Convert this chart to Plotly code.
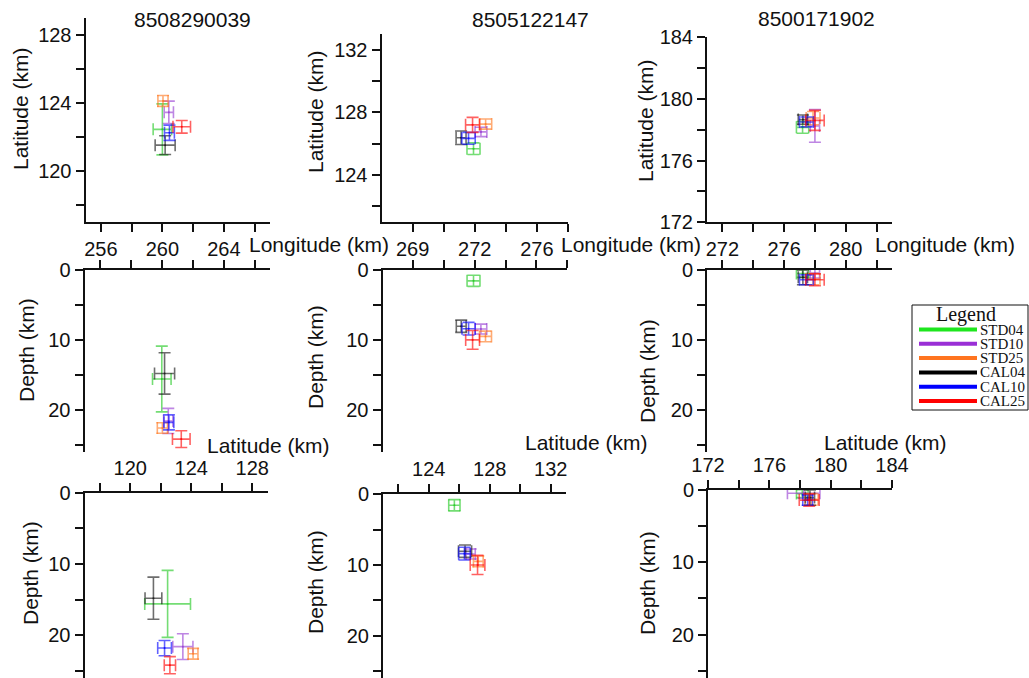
import plotly.graph_objects as go

W, H = 1029, 678

EVENTS = ["8508290039", "8505122147", "8500171902"]
SERIES = ["STD04", "STD10", "STD25", "CAL04", "CAL10", "CAL25"]
LINE_COLORS = ["#1ee61e", "#9a2fd6", "#ff7420", "#000000", "#0000ff", "#ff0000"]
MARK_RGB = [(30, 200, 30), (150, 60, 210), (255, 120, 30), (20, 20, 20), (0, 0, 255), (255, 0, 0)]

# hypocentre solutions per event (km) and one-sigma uncertainties
LON_1 = [260.00, 260.42, 260.04, 260.18, 260.46, 261.26]
LAT_1 = [122.45, 123.45, 124.12, 121.52, 122.25, 122.60]
DEP_1 = [15.6, 21.6, 22.6, 14.8, 21.8, 24.2]
ELON_1 = [0.60, 0.30, 0.33, 0.65, 0.32, 0.57]
ELAT_1 = [1.50, 0.66, 0.32, 0.55, 0.45, 0.37]
EDEP_1 = [4.70, 1.80, 0.75, 2.96, 1.07, 1.20]

LON_2 = [271.92, 272.40, 272.70, 271.12, 271.60, 271.86]
LAT_2 = [125.68, 126.75, 127.25, 126.38, 126.34, 127.20]
DEP_2 = [1.55, 8.45, 9.50, 8.05, 8.40, 10.0]
ELON_2 = [0.42, 0.38, 0.39, 0.32, 0.43, 0.45]
ELAT_2 = [0.37, 0.30, 0.32, 0.43, 0.38, 0.48]
EDEP_2 = [0.79, 0.71, 0.76, 0.88, 0.90, 1.35]

LON_3 = [277.20, 278.00, 277.88, 277.22, 277.45, 278.00]
LAT_3 = [178.15, 178.24, 178.75, 178.65, 178.50, 178.60]
DEP_3 = [0.50, 0.45, 1.30, 1.05, 1.40, 1.40]
ELON_3 = [0.40, 0.30, 0.45, 0.30, 0.45, 0.60]
ELAT_3 = [0.38, 1.06, 0.43, 0.30, 0.32, 0.65]
EDEP_3 = [0.55, 0.70, 0.80, 1.05, 0.70, 0.85]

LON = [LON_1, LON_2, LON_3]
LAT = [LAT_1, LAT_2, LAT_3]
DEP = [DEP_1, DEP_2, DEP_3]
ELON = [ELON_1, ELON_2, ELON_3]
ELAT = [ELAT_1, ELAT_2, ELAT_3]
EDEP = [EDEP_1, EDEP_2, EDEP_3]

LON_RANGE = [[255, 267], [266, 278], [271, 283]]
LAT_RANGE = [[117, 129], [121, 133], [172, 184]]
DEP_RANGE = [26, 0]

LON_TICKS = [[256, 258, 260, 262, 264, 266],
             [268, 270, 272, 274, 276, 278],
             [272, 274, 276, 278, 280, 282]]
LON_LABELS = [["256", "", "260", "", "264", ""],
              ["269", "", "272", "", "276", ""],
              ["272", "", "276", "", "280", ""]]
LAT_TICKS = [[118, 120, 122, 124, 126, 128],
             [122, 124, 126, 128, 130, 132],
             [172, 174, 176, 178, 180, 182, 184]]
LAT_LABELS = [["", "120", "", "124", "", "128"],
              ["", "124", "", "128", "", "132"],
              ["172", "", "176", "", "180", "", "184"]]
DEP_TICKS = [0, 5, 10, 15, 20, 25]
DEP_LABELS = ["0", "", "10", "", "20", ""]

SANS = "Liberation Sans, Arial, sans-serif"
SERIF = "Liberation Serif, Times New Roman, serif"
INK = "#111111"


def px(x):
    return x / W


def py(y):
    return 1 - y / H


# panel frames in pixels: (left, right, top, bottom)
FRAMES = [
    [(85.5, 270, 18, 222), (381.5, 568, 34, 222), (707, 892, 37, 222.3)],
    [(84.5, 270, 270, 451.7), (382.5, 567, 270, 451.7), (707, 892, 270, 451.7)],
    [(84.5, 267.5, 492.7, 678), (383, 566, 494.3, 678), (708, 892, 490, 678)],
]

fig = go.Figure()
layout = {}


def base_axis():
    return dict(showline=True, linecolor=INK, linewidth=2, ticks="outside", ticklen=8,
                tickwidth=2, tickcolor=INK, showgrid=False, zeroline=False, automargin=False,
                tickmode="array", tickfont=dict(family=SANS, size=20, color=INK))


for r in range(3):
    for c in range(3):
        k = r * 3 + c + 1
        xa = "x" if k == 1 else f"x{k}"
        ya = "y" if k == 1 else f"y{k}"
        left, right, top, bottom = FRAMES[r][c]
        xax = base_axis()
        yax = base_axis()
        xax.update(domain=[px(left), px(right)], anchor=ya)
        yax.update(domain=[py(bottom), py(top)], anchor=xa)
        if r == 0:
            xs, ys = LON[c], LAT[c]
            exs, eys = ELON[c], ELAT[c]
            xax.update(range=LON_RANGE[c], tickvals=LON_TICKS[c], ticktext=LON_LABELS[c], side="bottom")
            yax.update(range=LAT_RANGE[c], tickvals=LAT_TICKS[c], ticktext=LAT_LABELS[c])
        elif r == 1:
            xs, ys = LON[c], DEP[c]
            exs, eys = ELON[c], EDEP[c]
            xax.update(range=LON_RANGE[c], tickvals=LON_TICKS[c], ticktext=LON_LABELS[c],
                       side="top", showticklabels=False)
            yax.update(range=DEP_RANGE, tickvals=DEP_TICKS, ticktext=DEP_LABELS)
        else:
            xs, ys = LAT[c], DEP[c]
            exs, eys = ELAT[c], EDEP[c]
            xax.update(range=LAT_RANGE[c], tickvals=LAT_TICKS[c], ticktext=LAT_LABELS[c], side="top")
            yax.update(range=DEP_RANGE, tickvals=DEP_TICKS, ticktext=DEP_LABELS)
        layout["xaxis" if k == 1 else f"xaxis{k}"] = xax
        layout["yaxis" if k == 1 else f"yaxis{k}"] = yax

        for i, name in enumerate(SERIES):
            rr, gg, bb = MARK_RGB[i]
            col = f"rgba({rr},{gg},{bb},0.62)"
            fig.add_trace(go.Scatter(
                x=[xs[i]], y=[ys[i]], mode="markers", name=name, showlegend=False,
                xaxis=xa, yaxis=ya,
                marker=dict(size=2, color=col),
                error_x=dict(type="data", array=[exs[i]], color=col, thickness=1.6, width=6),
                error_y=dict(type="data", array=[eys[i]], color=col, thickness=1.6, width=6),
            ))

annotations = []


def text(s, x, y, size=21, angle=0, xanchor="center", family=SANS):
    annotations.append(dict(text=s, x=px(x), y=py(y), xref="paper", yref="paper",
                            showarrow=False, textangle=angle, xanchor=xanchor, yanchor="middle",
                            font=dict(family=family, size=size, color=INK)))


# event titles
for label, (x, y) in zip(EVENTS, [(192, 19), (530, 20), (816, 18)]):
    text(label, x, y)

# vertical axis titles
for x, y in [(20, 109), (315, 112), (645, 121)]:
    text("Latitude (km)", x, y, angle=-90)
for x, y in [(27, 350), (315, 357), (647, 371), (30, 573), (315, 582), (647, 583)]:
    text("Depth (km)", x, y, angle=-90)

# horizontal axis titles
for x in [247, 559, 873]:
    text("Longitude (km)", x, 245, xanchor="left")
for x, y in [(205, 445), (523, 442), (822, 442)]:
    text("Latitude (km)", x, y, xanchor="left")

# legend box
shapes = [dict(type="rect", xref="paper", yref="paper", x0=px(912), x1=px(1028),
               y0=py(410), y1=py(305), line=dict(color=INK, width=1), fillcolor="white")]
text("Legend", 966, 314, size=20, family=SERIF)
row0, row_step = 329.5, 14.3
for j, (name, col) in enumerate(zip(SERIES, LINE_COLORS)):
    y = row0 + j * row_step
    shapes.append(dict(type="line", xref="paper", yref="paper", x0=px(919), x1=px(977),
                       y0=py(y), y1=py(y), line=dict(color=col, width=4)))
    text(name, 978, y, size=15, xanchor="left", family=SERIF)

fig.update_layout(
    width=W, height=H, margin=dict(l=0, r=0, t=0, b=0),
    paper_bgcolor="white", plot_bgcolor="white",
    showlegend=False, annotations=annotations, shapes=shapes,
    **layout,
)

fig.write_html("out.html")
